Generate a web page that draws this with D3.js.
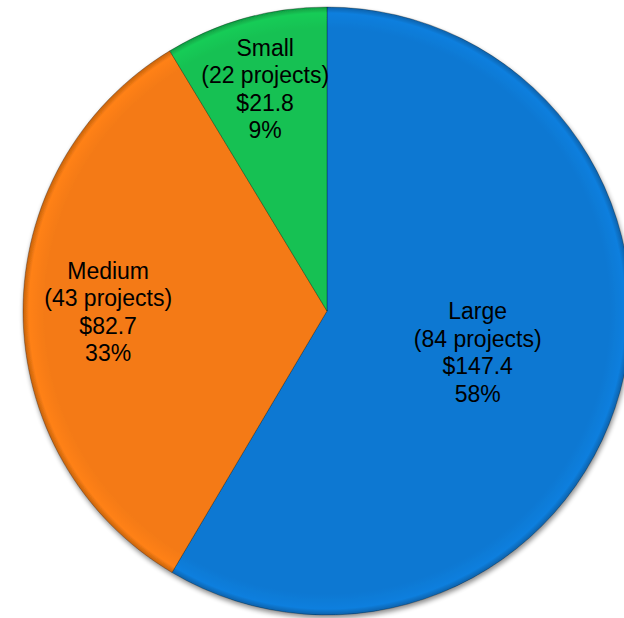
<!DOCTYPE html>
<html>
<head>
<meta charset="utf-8">
<script src="https://cdn.jsdelivr.net/npm/d3@7"></script>
<style>
  html, body { margin: 0; padding: 0; background: #fff; }
  svg { display: block; }
</style>
</head>
<body>
<svg id="chart" width="624" height="618"></svg>
<script>
// Project funding by size category ($ millions)
const categories = ["Large", "Medium", "Small"];
const projectCounts = [84, 43, 22];
const amounts = [147.4, 82.7, 21.8];
const percents = ["58%", "33%", "9%"];
const colors = ["#0b78d2", "#f47a12", "#14c152"];

// Label placement as a fraction of the radius, one per slice
const labelRadius = [0.514, 0.72, 0.758];

const width = 624, height = 618;
const cx = 327, cy = 311, r = 304;

const svg = d3.select("#chart");
const defs = svg.append("defs");

// Soft shadow under the pie
const shadow = defs.append("filter").attr("id", "shadow")
  .attr("x", "-10%").attr("y", "-10%").attr("width", "120%").attr("height", "120%");
shadow.append("feGaussianBlur").attr("in", "SourceAlpha").attr("stdDeviation", 2.5).attr("result", "b");
shadow.append("feOffset").attr("in", "b").attr("dx", 1).attr("dy", 3).attr("result", "o");
shadow.append("feComponentTransfer").attr("in", "o").attr("result", "s")
  .append("feFuncA").attr("type", "linear").attr("slope", 0.45);
const merge = shadow.append("feMerge");
merge.append("feMergeNode").attr("in", "s");
merge.append("feMergeNode").attr("in", "SourceGraphic");

// Slight darkening toward the rim of each slice
colors.forEach((c, i) => {
  const g = defs.append("radialGradient").attr("id", "grad" + i)
    .attr("gradientUnits", "userSpaceOnUse")
    .attr("cx", 0).attr("cy", 0).attr("r", r);
  g.append("stop").attr("offset", "0%").attr("stop-color", c);
  g.append("stop").attr("offset", "93%").attr("stop-color", c);
  g.append("stop").attr("offset", "98%").attr("stop-color", d3.color(c).brighter(0.15));
  g.append("stop").attr("offset", "100%").attr("stop-color", d3.color(c).darker(0.6));
});

const data = categories.map((c, i) => ({
  name: c, count: projectCounts[i], amount: amounts[i], pct: percents[i], idx: i
}));

const pie = d3.pie().sort(null).value(d => d.amount);
const arcs = pie(data);
const arc = d3.arc().innerRadius(0).outerRadius(r);

const g = svg.append("g").attr("transform", `translate(${cx},${cy})`);

g.append("g").attr("filter", "url(#shadow)")
  .selectAll("path")
  .data(arcs)
  .join("path")
  .attr("d", arc)
  .attr("fill", d => `url(#grad${d.data.idx})`)
  .attr("stroke", "rgba(0,0,0,0.35)")
  .attr("stroke-width", 0.8);

const lineH = 27.6;
const labels = g.append("g")
  .attr("font-family", "'Liberation Sans', Arial, sans-serif")
  .attr("font-size", 23)
  .attr("fill", "#000")
  .attr("text-anchor", "middle");

arcs.forEach(a => {
  const lr = labelRadius[a.data.idx] * r;
  const [lx, ly] = d3.arc().innerRadius(lr).outerRadius(lr).centroid(a);
  const lines = [
    a.data.name,
    `(${a.data.count} projects)`,
    `$${a.data.amount.toFixed(1)}`,
    a.data.pct
  ];
  const t = labels.append("text").attr("x", lx).attr("y", ly);
  lines.forEach((s, k) => {
    t.append("tspan")
      .attr("x", lx)
      .attr("y", ly + (k - 1.5) * lineH + 8)
      .text(s);
  });
});
</script>
</body>
</html>
